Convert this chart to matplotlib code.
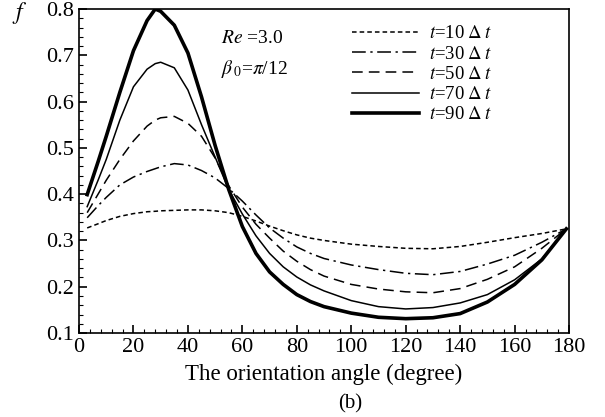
import numpy as np
import matplotlib.pyplot as plt
from matplotlib.ticker import MultipleLocator

plt.rcParams['font.family'] = ['Liberation Serif', 'DejaVu Serif']
plt.rcParams['mathtext.fontset'] = 'stix'

# данные
angle = [3, 7, 10, 15, 20, 25, 28, 30, 35, 40, 45, 50, 55, 60, 65, 70, 75, 80, 85, 90,
         100, 110, 120, 130, 140, 150, 160, 170, 179]
f_t10 = [0.327, 0.336, 0.343, 0.352, 0.358, 0.362, 0.363, 0.364, 0.365, 0.366, 0.366, 0.364, 0.360,
         0.352, 0.342, 0.331, 0.321, 0.312, 0.305, 0.300,
         0.292, 0.287, 0.283, 0.282, 0.287, 0.296, 0.306, 0.315, 0.325]
f_t30 = [0.349, 0.375, 0.393, 0.420, 0.437, 0.449, 0.455, 0.459, 0.466, 0.463, 0.451, 0.435, 0.412,
         0.385, 0.355, 0.327, 0.305, 0.286, 0.272, 0.261,
         0.247, 0.237, 0.229, 0.226, 0.233, 0.249, 0.268, 0.296, 0.325]
f_t50 = [0.360, 0.400, 0.430, 0.475, 0.515, 0.547, 0.560, 0.565, 0.568, 0.553, 0.525, 0.478, 0.418,
         0.372, 0.335, 0.305, 0.277, 0.255, 0.237, 0.223,
         0.205, 0.195, 0.189, 0.187, 0.196, 0.216, 0.243, 0.283, 0.325]
f_t70 = [0.373, 0.430, 0.475, 0.560, 0.632, 0.670, 0.682, 0.685, 0.673, 0.625, 0.550, 0.480, 0.410,
         0.357, 0.310, 0.272, 0.243, 0.221, 0.204, 0.191,
         0.170, 0.157, 0.152, 0.155, 0.165, 0.183, 0.215, 0.260, 0.325]
f_t90 = [0.399, 0.470, 0.525, 0.620, 0.710, 0.775, 0.800, 0.795, 0.765, 0.705, 0.610, 0.505, 0.410,
         0.330, 0.272, 0.232, 0.205, 0.183, 0.168, 0.157,
         0.143, 0.134, 0.131, 0.133, 0.142, 0.167, 0.205, 0.258, 0.325]
labels = [r'$t$=10$\;\Delta\;t$', r'$t$=30$\;\Delta\;t$', r'$t$=50$\;\Delta\;t$',
          r'$t$=70$\;\Delta\;t$', r'$t$=90$\;\Delta\;t$']

fig = plt.figure(figsize=(6.05, 4.17), dpi=100)
ax = fig.add_axes([0.1306, 0.2014, 0.81, 0.777])

series = [f_t10, f_t30, f_t50, f_t70, f_t90]
styles = [dict(ls=(0, (3, 2)), lw=1.1),
          dict(ls=(0, (9, 3, 1.5, 3)), lw=1.1),
          dict(ls=(0, (7, 4)), lw=1.1),
          dict(ls='-', lw=1.1),
          dict(ls='-', lw=2.6)]
for vals, st, lab in zip(series, styles, labels):
    ax.plot(angle, vals, color='black', linestyle=st['ls'], linewidth=st['lw'],
            label=lab, solid_joinstyle='round')

ax.set_xlim(0, 180)
ax.set_ylim(0.1, 0.8)
ax.xaxis.set_major_locator(MultipleLocator(20))
ax.xaxis.set_minor_locator(MultipleLocator(4))
ax.yaxis.set_major_locator(MultipleLocator(0.1))
ax.yaxis.set_minor_locator(MultipleLocator(0.02))
ax.yaxis.set_major_formatter(plt.FuncFormatter(lambda v, p: f'{v:.1f}'))
ax.tick_params(which='both', direction='in', top=False, right=False, labelsize=16)
ax.tick_params(which='major', length=6, width=1.2)
ax.tick_params(which='minor', length=3, width=0.8)
for s in ax.spines.values():
    s.set_linewidth(1.2)

ax.set_xlabel('The orientation angle (degree)', fontsize=16.5, labelpad=5)
fig.text(0.578, 0.02, '(b)', ha='center', fontsize=15)
fig.text(0.02, 0.955, r'$f$', fontsize=17)

ax.text(0.29, 0.895, r'$Re$ =3.0', transform=ax.transAxes, fontsize=14)
ax.text(0.29, 0.80, r'$\beta_{\,0}$=$\pi$/12', transform=ax.transAxes, fontsize=14)

ax.legend(loc='upper right', bbox_to_anchor=(0.865, 0.985), frameon=False, fontsize=13.5,
          handlelength=3.6, labelspacing=0.17, handletextpad=0.5, borderaxespad=0.2)

fig.savefig('out.png', dpi=100)
